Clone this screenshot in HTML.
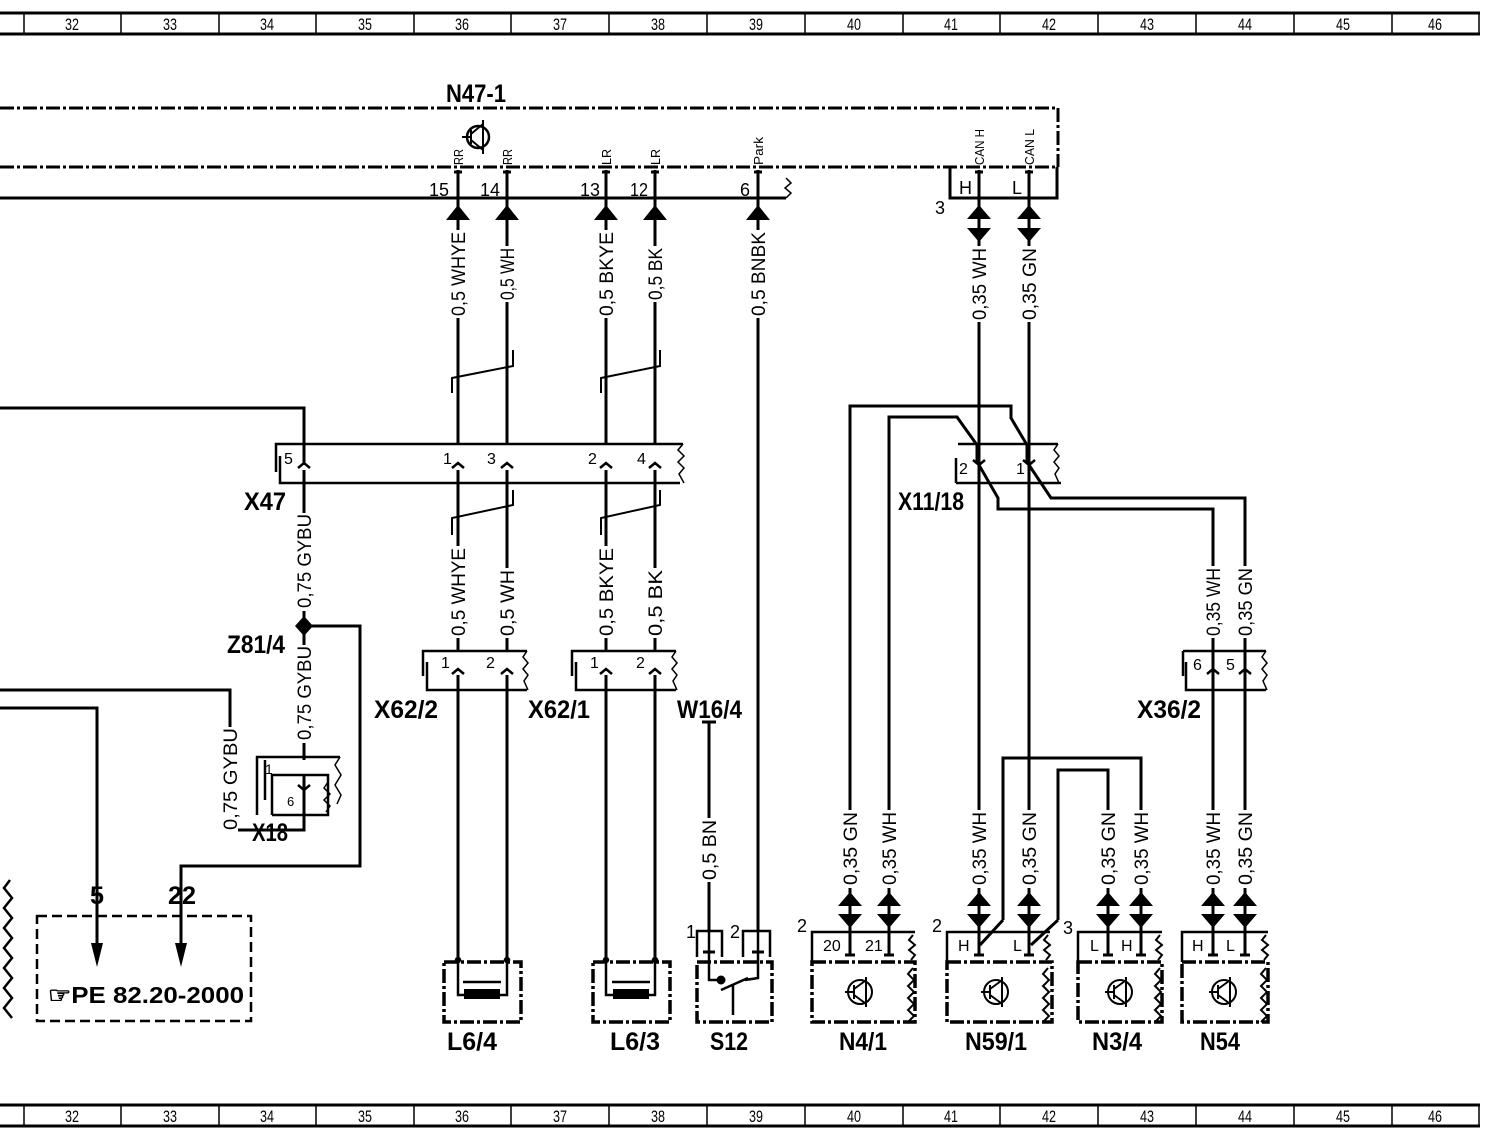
<!DOCTYPE html>
<html><head><meta charset="utf-8"><style>
html,body{margin:0;padding:0;background:#fff;}
svg{display:block;}
text{font-family:"Liberation Sans",sans-serif;fill:#000;}
.b{font-weight:bold;}
</style></head><body>
<svg width="1504" height="1146" viewBox="0 0 1504 1146" xmlns="http://www.w3.org/2000/svg">
<g fill="none" stroke="#000" stroke-width="3" stroke-linecap="butt">
<line x1="0" y1="13" x2="1480" y2="13" stroke-width="3"/>
<line x1="0" y1="34" x2="1480" y2="34" stroke-width="3"/>
<line x1="0" y1="1105" x2="1480" y2="1105" stroke-width="3"/>
<line x1="0" y1="1126" x2="1480" y2="1126" stroke-width="3"/>
<g stroke-width="1.5">
<path d="M24 13V34M121 13V34M219 13V34M316 13V34M414 13V34M511 13V34M609 13V34M707 13V34M805 13V34M903 13V34M1000 13V34M1098 13V34M1196 13V34M1294 13V34M1392 13V34M1479 13V34"/>
<path d="M24 1105V1126M121 1105V1126M219 1105V1126M316 1105V1126M414 1105V1126M511 1105V1126M609 1105V1126M707 1105V1126M805 1105V1126M903 1105V1126M1000 1105V1126M1098 1105V1126M1196 1105V1126M1294 1105V1126M1392 1105V1126M1479 1105V1126"/>
</g>

<g stroke-dasharray="14,3,3,3" stroke-width="3">
<line x1="0" y1="108" x2="1058" y2="108"/>
<line x1="0" y1="167" x2="1058" y2="167"/>
<line x1="1058" y1="108" x2="1058" y2="167"/>
</g>
<line x1="0" y1="198" x2="786" y2="198"/>
<path d="M786 178l5 5-6 5 6 5-5 5" stroke-width="1.5"/>
<path d="M950 167V198H1057V167"/>
<circle cx="478" cy="137" r="11" stroke-width="2.5"/>
<path d="M462 137h9M471 130v14M471 134l12-10M471 140l12 10M483 120v34" stroke-width="2"/>
<g stroke-width="3">
<path d="M458 170v28M454 172h8M507 170v28M503 172h8M606 170v28M602 172h8M655 170v28M651 172h8M758 170v28M754 172h8M979 170v28M975 172h8M1029 170v28M1025 172h8"/>
</g>

<path d="M458 198V445M507 198V445M606 198V445M655 198V445M758 198V930M979 198V940M1029 198V940"/>
<g stroke-width="2">
<path d="M452 393V378L513 366V350M601 393V378L660 366V350"/>
<path d="M452 535V518L513 505V490M601 535V518L660 505V490"/>
</g>
<path d="M0 408H304V465"/>
<path d="M276 472V444H683M280 456V483H680" stroke-width="2.5"/>
<path d="M683 444l-5 6 6 6-6 6 6 6-5 6 5 9" stroke-width="1.5"/>
<path d="M304 470V620M458 470V651M507 470V651M606 470V651M655 470V651"/>
<path d="M304 632V760M304 626H360V866H181V945"/>
<path d="M0 690H230V830H304V775"/>
<path d="M0 708H97V945"/>
<path d="M257 815V757H340M272 815V775H328V815H272M265 760V800" stroke-width="2.5"/>
<path d="M340 757l-5 8 6 10-6 10 6 10-4 9M328 782l-4 6 6 6-6 6 6 6-4 6" stroke-width="1.5"/>
<path d="M423 676V651H527M427 662V690H527M572 676V651H676M576 662V690H676" stroke-width="2.5"/>
<path d="M527 651l-4 6 5 6-5 6 5 6-4 6 4 9M676 651l-4 6 5 6-5 6 5 6-4 6 4 9" stroke-width="1.5"/>
<path d="M458 675V960M507 675V960M606 675V960M655 675V960"/>
<path d="M709 722V932M702 722h14"/>
<path d="M850 940V406H1011V418L1027 445V462M889 940V417H957L977 445V462"/>
<path d="M979 465L998 498V509H1213V940M1029 465L1051 498H1245V940"/>
<path d="M958 444H1058M956 483H1061M956 458V483" stroke-width="2.5"/>
<path d="M1058 444l-4 6 5 6-5 6 5 6-4 6 4 9" stroke-width="1.5"/>
<path d="M1183 651H1266M1186 662V690H1266M1183 651V676" stroke-width="2.5"/>
<path d="M1266 651l-4 6 5 6-5 6 5 6-4 6 4 9" stroke-width="1.5"/>
<path d="M1003 920V758H1141V940M1003 920L980 945M1058 920V770H1108V940M1058 920L1031 945"/>
<rect x="37" y="916" width="214" height="105" stroke-dasharray="10,5" stroke-width="2.5"/>

<g stroke-dasharray="14,3,3,3" stroke-width="3.5">
<rect x="444" y="962" width="77" height="60"/>
<rect x="593" y="962" width="77" height="60"/>
<rect x="697" y="962" width="75" height="60"/>
<rect x="812" y="962" width="103" height="60"/>
<rect x="947" y="962" width="105" height="60"/>
<rect x="1078" y="962" width="84" height="60"/>
<rect x="1182" y="962" width="86" height="60"/>
</g>
<path d="M458 960V995H507V960M606 960V995H655V960" stroke-width="2.5"/>
<path d="M463 982h38M612 982h38" stroke-width="2.5"/>
<rect x="464" y="989" width="36" height="10" fill="#000" stroke="none"/>
<rect x="613" y="989" width="36" height="10" fill="#000" stroke="none"/>
<path d="M697 957V931H722V957M743 957V931H770V957" stroke-width="2.5"/>
<path d="M709 930V980L721 980M758 930V978L745 980M721 990L748 978M733 985V1015" stroke-width="2.5"/>
<path d="M703 952h12M752 952h12" stroke-width="3"/>
<circle cx="721" cy="980" r="3" fill="#000"/>
<path d="M812 962V932H915M947 962V932H1050M1078 962V932H1162M1182 962V932H1268" stroke-width="2.5"/>
<path d="M850 932V955M889 932V955M979 945V955M1029 945V955M1108 932V955M1141 932V955M1213 932V955M1245 932V955" stroke-width="3"/>
<path d="M845 955h10M884 955h10M974 955h10M1024 955h10M1103 955h10M1136 955h10M1208 955h10M1240 955h10" stroke-width="3"/>
<path d="M850 900V932M889 900V932M979 900V945M1029 900V945M1108 900V932M1141 900V932M1213 900V932M1245 900V932"/>
<g stroke-width="2">
<path d="M913 935l-4 5 6 5-6 5 6 5-4 5M913 968l-5 6 6 6-6 6 6 6-6 6 6 6-6 6 6 6-6 6"/>
<path d="M1048 935l-4 5 6 5-6 5 6 5-4 5M1048 968l-5 6 6 6-6 6 6 6-6 6 6 6-6 6 6 6-6 6"/>
<path d="M1160 935l-4 5 6 5-6 5 6 5-4 5M1160 968l-5 6 6 6-6 6 6 6-6 6 6 6-6 6 6 6-6 6"/>
<path d="M1266 935l-4 5 6 5-6 5 6 5-4 5M1266 968l-5 6 6 6-6 6 6 6-6 6 6 6-6 6 6 6-6 6"/>
<path d="M10 880l-6 8 8 10-8 10 8 10-8 10 8 10-8 10 8 10-8 10 8 10-8 10 8 10-8 10 8 10" stroke-width="2.5"/>
</g>
<g stroke-width="2">
<circle cx="860" cy="992" r="12"/><path d="M845 992h9M854 985v14M854 989l11-8M854 995l11 8M866 977v30"/>
<circle cx="996" cy="992" r="12"/><path d="M981 992h9M990 985v14M990 989l11-8M990 995l11 8M1002 977v30"/>
<circle cx="1120" cy="992" r="12"/><path d="M1105 992h9M1114 985v14M1114 989l11-8M1114 995l11 8M1126 977v30"/>
<circle cx="1224" cy="992" r="12"/><path d="M1209 992h9M1218 985v14M1218 989l11-8M1218 995l11 8M1230 977v30"/>
</g>
</g>

<g fill="#000" stroke="none">
<path d="M458 205l-12 15h24zM507 205l-12 15h24zM606 205l-12 15h24zM655 205l-12 15h24zM758 205l-12 15h24z"/>
<path d="M979 205l-12 14h24zM979 242l-12-14h24zM1029 205l-12 14h24zM1029 242l-12-14h24z"/>
<path d="M850 892l-12 14h24zM850 928l-12-14h24zM889 892l-12 14h24zM889 928l-12-14h24zM979 892l-12 14h24zM979 928l-12-14h24zM1029 892l-12 14h24zM1029 928l-12-14h24zM1108 892l-12 14h24zM1108 928l-12-14h24zM1141 892l-12 14h24zM1141 928l-12-14h24zM1213 892l-12 14h24zM1213 928l-12-14h24zM1245 892l-12 14h24zM1245 928l-12-14h24z"/>
<path d="M91 943h12l-6 24zM175 943h12l-6 24z"/>
<path d="M304 616l9 10-9 10-9-10z"/>
</g>
<g fill="none" stroke="#000" stroke-width="2.5">
<path d="M298 468l6-5 6 5M452 468l6-5 6 5M501 468l6-5 6 5M600 468l6-5 6 5M649 468l6-5 6 5"/>
<path d="M452 674l6-5 6 5M501 674l6-5 6 5M600 674l6-5 6 5M649 674l6-5 6 5M1207 674l6-5 6 5M1239 674l6-5 6 5"/>
<path d="M973 460l6 5 6-5M1023 460l6 5 6-5M298 785l6 5 6-5"/>
<circle cx="458" cy="960" r="2" fill="#000"/><circle cx="507" cy="960" r="2" fill="#000"/>
<circle cx="606" cy="960" r="2" fill="#000"/><circle cx="655" cy="960" r="2" fill="#000"/>
</g>

<g fill="#fff" stroke="none">
<rect x="450" y="230" width="16" height="88"/><rect x="499" y="246" width="16" height="56"/>
<rect x="598" y="230" width="16" height="88"/><rect x="647" y="246" width="16" height="56"/>
<rect x="750" y="230" width="16" height="88"/><rect x="971" y="246" width="16" height="76"/>
<rect x="1021" y="246" width="16" height="76"/>
<rect x="296" y="513" width="16" height="98"/><rect x="296" y="645" width="16" height="98"/>
<rect x="222" y="727" width="16" height="105"/>
<rect x="450" y="546" width="16" height="92"/><rect x="499" y="568" width="16" height="70"/>
<rect x="598" y="546" width="16" height="92"/><rect x="647" y="568" width="16" height="70"/>
<rect x="1205" y="566" width="16" height="72"/><rect x="1237" y="566" width="16" height="72"/>
<rect x="701" y="818" width="16" height="64"/>
<rect x="842" y="810" width="16" height="78"/><rect x="881" y="810" width="16" height="78"/>
<rect x="971" y="810" width="16" height="78"/><rect x="1021" y="810" width="16" height="78"/>
<rect x="1100" y="810" width="16" height="78"/><rect x="1133" y="810" width="16" height="78"/>
<rect x="1205" y="810" width="16" height="78"/><rect x="1237" y="810" width="16" height="78"/>
</g>
<g font-size="19">
<text transform="translate(465,316) rotate(-90)" textLength="84" lengthAdjust="spacingAndGlyphs">0,5 WHYE</text>
<text transform="translate(514,300) rotate(-90)" textLength="52" lengthAdjust="spacingAndGlyphs">0,5 WH</text>
<text transform="translate(613,316) rotate(-90)" textLength="84" lengthAdjust="spacingAndGlyphs">0,5 BKYE</text>
<text transform="translate(662,300) rotate(-90)" textLength="52" lengthAdjust="spacingAndGlyphs">0,5 BK</text>
<text transform="translate(765,316) rotate(-90)" textLength="84" lengthAdjust="spacingAndGlyphs">0,5 BNBK</text>
<text transform="translate(986,320) rotate(-90)" textLength="72" lengthAdjust="spacingAndGlyphs">0,35 WH</text>
<text transform="translate(1036,320) rotate(-90)" textLength="72" lengthAdjust="spacingAndGlyphs">0,35 GN</text>
<text transform="translate(311,608) rotate(-90)" textLength="94" lengthAdjust="spacingAndGlyphs">0,75 GYBU</text>
<text transform="translate(311,740) rotate(-90)" textLength="94" lengthAdjust="spacingAndGlyphs">0,75 GYBU</text>
<text transform="translate(237,830) rotate(-90)" textLength="102" lengthAdjust="spacingAndGlyphs">0,75 GYBU</text>
<text transform="translate(465,636) rotate(-90)" textLength="88" lengthAdjust="spacingAndGlyphs">0,5 WHYE</text>
<text transform="translate(514,636) rotate(-90)" textLength="66" lengthAdjust="spacingAndGlyphs">0,5 WH</text>
<text transform="translate(613,636) rotate(-90)" textLength="88" lengthAdjust="spacingAndGlyphs">0,5 BKYE</text>
<text transform="translate(662,636) rotate(-90)" textLength="66" lengthAdjust="spacingAndGlyphs">0,5 BK</text>
<text transform="translate(1220,636) rotate(-90)" textLength="68" lengthAdjust="spacingAndGlyphs">0,35 WH</text>
<text transform="translate(1252,636) rotate(-90)" textLength="68" lengthAdjust="spacingAndGlyphs">0,35 GN</text>
<text transform="translate(716,880) rotate(-90)" textLength="60" lengthAdjust="spacingAndGlyphs">0,5 BN</text>
<text transform="translate(857,885) rotate(-90)" textLength="73" lengthAdjust="spacingAndGlyphs">0,35 GN</text>
<text transform="translate(896,885) rotate(-90)" textLength="73" lengthAdjust="spacingAndGlyphs">0,35 WH</text>
<text transform="translate(986,885) rotate(-90)" textLength="73" lengthAdjust="spacingAndGlyphs">0,35 WH</text>
<text transform="translate(1036,885) rotate(-90)" textLength="73" lengthAdjust="spacingAndGlyphs">0,35 GN</text>
<text transform="translate(1115,885) rotate(-90)" textLength="73" lengthAdjust="spacingAndGlyphs">0,35 GN</text>
<text transform="translate(1148,885) rotate(-90)" textLength="73" lengthAdjust="spacingAndGlyphs">0,35 WH</text>
<text transform="translate(1220,885) rotate(-90)" textLength="73" lengthAdjust="spacingAndGlyphs">0,35 WH</text>
<text transform="translate(1252,885) rotate(-90)" textLength="73" lengthAdjust="spacingAndGlyphs">0,35 GN</text>
</g>
<g font-size="13">
<text transform="translate(463,165) rotate(-90)" textLength="16" lengthAdjust="spacingAndGlyphs">RR</text>
<text transform="translate(512,165) rotate(-90)" textLength="16" lengthAdjust="spacingAndGlyphs">RR</text>
<text transform="translate(611,165) rotate(-90)" textLength="16" lengthAdjust="spacingAndGlyphs">LR</text>
<text transform="translate(660,165) rotate(-90)" textLength="16" lengthAdjust="spacingAndGlyphs">LR</text>
<text transform="translate(763,165) rotate(-90)" textLength="28" lengthAdjust="spacingAndGlyphs">Park</text>
<text transform="translate(984,165) rotate(-90)" textLength="36" lengthAdjust="spacingAndGlyphs">CAN H</text>
<text transform="translate(1034,165) rotate(-90)" textLength="36" lengthAdjust="spacingAndGlyphs">CAN L</text>
</g>
<g font-size="18">
<text x="429" y="196" textLength="20" lengthAdjust="spacingAndGlyphs">15</text>
<text x="480" y="196" textLength="20" lengthAdjust="spacingAndGlyphs">14</text>
<text x="580" y="196" textLength="20" lengthAdjust="spacingAndGlyphs">13</text>
<text x="630" y="196" textLength="18" lengthAdjust="spacingAndGlyphs">12</text>
<text x="740" y="196">6</text>
<text x="935" y="214">3</text>
<text x="959" y="194">H</text><text x="1012" y="194">L</text>
<text x="284" y="464" font-size="16">5</text><text x="443" y="464" font-size="16">1</text>
<text x="487" y="464" font-size="16">3</text><text x="588" y="464" font-size="16">2</text>
<text x="637" y="464" font-size="16">4</text>
<text x="959" y="474" font-size="16">2</text><text x="1016" y="474" font-size="16">1</text>
<text x="441" y="668" font-size="16">1</text><text x="486" y="668" font-size="16">2</text>
<text x="590" y="668" font-size="16">1</text><text x="636" y="668" font-size="16">2</text>
<text x="1193" y="670" font-size="16">6</text><text x="1226" y="670" font-size="16">5</text>
<text x="265" y="774" font-size="14">1</text><text x="287" y="806" font-size="13">6</text>
<text x="686" y="938">1</text><text x="730" y="938">2</text>
<text x="797" y="932">2</text><text x="823" y="951" font-size="16">20</text><text x="865" y="951" font-size="16">21</text>
<text x="932" y="932">2</text><text x="958" y="951" font-size="16">H</text><text x="1013" y="951" font-size="16">L</text>
<text x="1063" y="934">3</text><text x="1090" y="951" font-size="16">L</text><text x="1121" y="951" font-size="16">H</text>
<text x="1192" y="951" font-size="16">H</text><text x="1226" y="951" font-size="16">L</text>
</g>
<g class="b" font-size="25">
<text x="446" y="102" textLength="60" lengthAdjust="spacingAndGlyphs">N47-1</text>
<text x="244" y="510" textLength="42" lengthAdjust="spacingAndGlyphs">X47</text>
<text x="898" y="510" textLength="66" lengthAdjust="spacingAndGlyphs">X11/18</text>
<text x="227" y="653" textLength="58" lengthAdjust="spacingAndGlyphs">Z81/4</text>
<text x="374" y="718" textLength="64" lengthAdjust="spacingAndGlyphs">X62/2</text>
<text x="528" y="718" textLength="62" lengthAdjust="spacingAndGlyphs">X62/1</text>
<text x="677" y="718" textLength="65" lengthAdjust="spacingAndGlyphs">W16/4</text>
<text x="1137" y="718" textLength="64" lengthAdjust="spacingAndGlyphs">X36/2</text>
<text x="252" y="841" textLength="36" lengthAdjust="spacingAndGlyphs">X18</text>
<text x="90" y="904" textLength="14" lengthAdjust="spacingAndGlyphs">5</text>
<text x="168" y="904" textLength="28" lengthAdjust="spacingAndGlyphs">22</text>
<text x="447" y="1050" textLength="50" lengthAdjust="spacingAndGlyphs">L6/4</text>
<text x="610" y="1050" textLength="50" lengthAdjust="spacingAndGlyphs">L6/3</text>
<text x="710" y="1050" textLength="38" lengthAdjust="spacingAndGlyphs">S12</text>
<text x="839" y="1050" textLength="48" lengthAdjust="spacingAndGlyphs">N4/1</text>
<text x="965" y="1050" textLength="62" lengthAdjust="spacingAndGlyphs">N59/1</text>
<text x="1092" y="1050" textLength="50" lengthAdjust="spacingAndGlyphs">N3/4</text>
<text x="1200" y="1050" textLength="40" lengthAdjust="spacingAndGlyphs">N54</text>
<text x="48" y="1003" font-size="23" textLength="196" lengthAdjust="spacingAndGlyphs">☞PE  82.20-2000</text>
</g>
<g font-size="17" text-anchor="middle">
<text x="72" y="30" textLength="14" lengthAdjust="spacingAndGlyphs">32</text><text x="170" y="30" textLength="14" lengthAdjust="spacingAndGlyphs">33</text><text x="267" y="30" textLength="14" lengthAdjust="spacingAndGlyphs">34</text><text x="365" y="30" textLength="14" lengthAdjust="spacingAndGlyphs">35</text><text x="462" y="30" textLength="14" lengthAdjust="spacingAndGlyphs">36</text><text x="560" y="30" textLength="14" lengthAdjust="spacingAndGlyphs">37</text><text x="658" y="30" textLength="14" lengthAdjust="spacingAndGlyphs">38</text><text x="756" y="30" textLength="14" lengthAdjust="spacingAndGlyphs">39</text><text x="854" y="30" textLength="14" lengthAdjust="spacingAndGlyphs">40</text><text x="951" y="30" textLength="14" lengthAdjust="spacingAndGlyphs">41</text><text x="1049" y="30" textLength="14" lengthAdjust="spacingAndGlyphs">42</text><text x="1147" y="30" textLength="14" lengthAdjust="spacingAndGlyphs">43</text><text x="1245" y="30" textLength="14" lengthAdjust="spacingAndGlyphs">44</text><text x="1343" y="30" textLength="14" lengthAdjust="spacingAndGlyphs">45</text><text x="1435" y="30" textLength="14" lengthAdjust="spacingAndGlyphs">46</text>
<text x="72" y="1122" textLength="14" lengthAdjust="spacingAndGlyphs">32</text><text x="170" y="1122" textLength="14" lengthAdjust="spacingAndGlyphs">33</text><text x="267" y="1122" textLength="14" lengthAdjust="spacingAndGlyphs">34</text><text x="365" y="1122" textLength="14" lengthAdjust="spacingAndGlyphs">35</text><text x="462" y="1122" textLength="14" lengthAdjust="spacingAndGlyphs">36</text><text x="560" y="1122" textLength="14" lengthAdjust="spacingAndGlyphs">37</text><text x="658" y="1122" textLength="14" lengthAdjust="spacingAndGlyphs">38</text><text x="756" y="1122" textLength="14" lengthAdjust="spacingAndGlyphs">39</text><text x="854" y="1122" textLength="14" lengthAdjust="spacingAndGlyphs">40</text><text x="951" y="1122" textLength="14" lengthAdjust="spacingAndGlyphs">41</text><text x="1049" y="1122" textLength="14" lengthAdjust="spacingAndGlyphs">42</text><text x="1147" y="1122" textLength="14" lengthAdjust="spacingAndGlyphs">43</text><text x="1245" y="1122" textLength="14" lengthAdjust="spacingAndGlyphs">44</text><text x="1343" y="1122" textLength="14" lengthAdjust="spacingAndGlyphs">45</text><text x="1435" y="1122" textLength="14" lengthAdjust="spacingAndGlyphs">46</text>
</g>
</svg>
</body></html>
